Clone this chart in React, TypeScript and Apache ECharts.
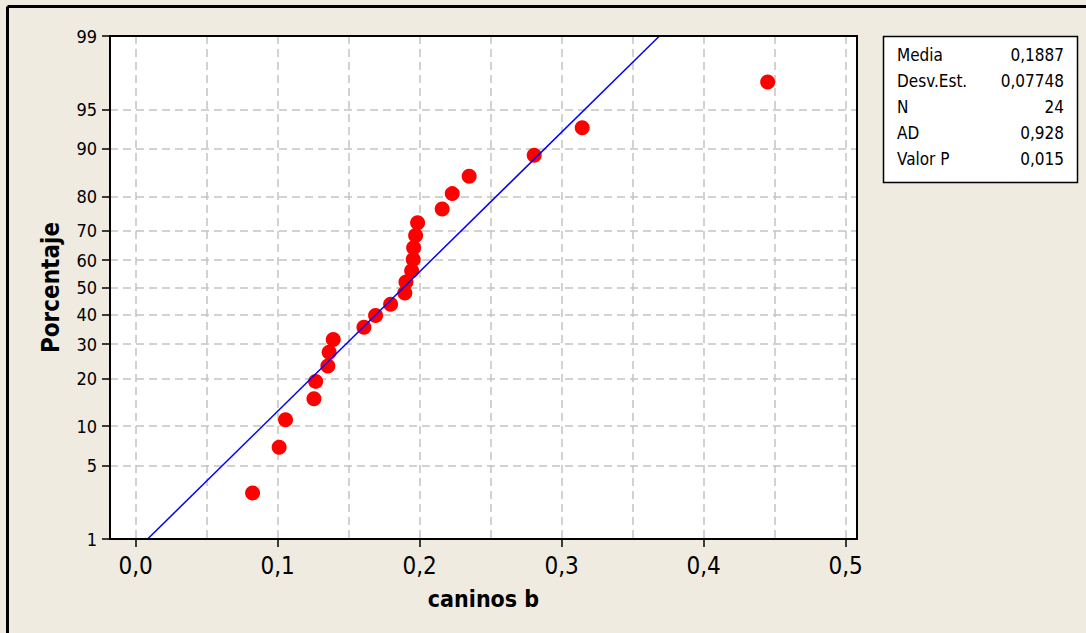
import React, { useEffect, useRef } from "react";
import * as echarts from "echarts";

// ---- data ----
const xValues = [
  0.0824, 0.1011, 0.1056, 0.1256, 0.1268, 0.1354, 0.1363, 0.1392, 0.1608, 0.169,
  0.1796, 0.1896, 0.1904, 0.1944, 0.1955, 0.1958, 0.1972, 0.1986, 0.2159, 0.223,
  0.2349, 0.2807, 0.3145, 0.4451,
];
const pctValues = [
  2.87, 6.97, 11.07, 15.16, 19.26, 23.36, 27.46, 31.56, 35.66, 39.75, 43.85, 47.95,
  52.05, 56.15, 60.25, 64.34, 68.44, 72.54, 76.64, 80.74, 84.84, 88.93, 93.03, 97.13,
];
const fitLine = [
  [0.0085, 1],
  [0.3689, 99],
];
const yTickPcts = [1, 5, 10, 20, 30, 40, 50, 60, 70, 80, 90, 95, 99];
const xTickValues = [0, 0.1, 0.2, 0.3, 0.4, 0.5];
const xGridValues = [0, 0.05, 0.1, 0.15, 0.2, 0.25, 0.3, 0.35, 0.4, 0.45, 0.5];
const statLabels = ["Media", "Desv.Est.", "N", "AD", "Valor P"];
const statValues = ["0,1887", "0,07748", "24", "0,928", "0,015"];

// inverse normal CDF (probability scale transform)
function probit(p: number): number {
  const a = [-39.6968302866538, 220.946098424521, -275.928510446969, 138.357751867269, -30.6647980661472, 2.50662827745924];
  const b = [-54.4764784291166, 161.585836858041, -155.698979859887, 66.8013118877197, -13.2806815528857];
  const c = [-0.00778489400243029, -0.322396458041136, -2.40075827716184, -2.54973253934373, 4.37466414146497, 2.93816398269878];
  const d = [0.00778469570904146, 0.32246712907004, 2.445134137143, 3.75440866190742];
  const pl = 0.02425;
  if (p < pl) {
    const q = Math.sqrt(-2 * Math.log(p));
    return (((((c[0] * q + c[1]) * q + c[2]) * q + c[3]) * q + c[4]) * q + c[5]) /
      ((((d[0] * q + d[1]) * q + d[2]) * q + d[3]) * q + 1);
  }
  if (p <= 1 - pl) {
    const q = p - 0.5;
    const r = q * q;
    return ((((((a[0] * r + a[1]) * r + a[2]) * r + a[3]) * r + a[4]) * r + a[5]) * q) /
      (((((b[0] * r + b[1]) * r + b[2]) * r + b[3]) * r + b[4]) * r + 1);
  }
  const q = Math.sqrt(-2 * Math.log(1 - p));
  return -(((((c[0] * q + c[1]) * q + c[2]) * q + c[3]) * q + c[4]) * q + c[5]) /
    ((((d[0] * q + d[1]) * q + d[2]) * q + d[3]) * q + 1);
}
const z = (pct: number) => probit(pct / 100);

const FONT = "'DejaVu Sans Condensed', 'DejaVu Sans', sans-serif";

export default function App() {
  const ref = useRef<HTMLDivElement>(null);
  useEffect(() => {
    if (!ref.current) return;
    const chart = echarts.init(ref.current, null, { renderer: "svg" });
    const yTickZ = yTickPcts.map(z);
    const yMin = z(1);
    const yMax = z(99);
    const labelFor = (v: number) => {
      for (let i = 0; i < yTickZ.length; i++) {
        if (Math.abs(yTickZ[i] - v) < 1e-6) return String(yTickPcts[i]);
      }
      return "";
    };
    const gridColor = "#c4c4c4";
    chart.setOption({
      animation: false,
      backgroundColor: "#EFEBE1",
      grid: {
        left: 110,
        top: 36,
        right: 229,
        bottom: 94,
        show: true,
        backgroundColor: "#ffffff",
        borderColor: "#000",
        borderWidth: 1.5,
        containLabel: false,
        outerBoundsMode: "none",
      },
      xAxis: [
        {
          type: "value",
          min: -0.018,
          max: 0.508,
          position: "bottom",
          name: "caninos b",
          nameLocation: "middle",
          nameGap: 48,
          nameTextStyle: { fontFamily: FONT, fontSize: 23, fontWeight: "bold", color: "#000" },
          axisLine: { show: true, onZero: false, lineStyle: { color: "#000", width: 2 } },
          axisTick: { show: true, length: 8, customValues: xTickValues, lineStyle: { color: "#000", width: 1.5 } },
          axisLabel: {
            customValues: xTickValues,
            margin: 15,
            fontFamily: FONT,
            fontSize: 24,
            color: "#000",
            formatter: (v: number) => v.toFixed(1).replace(".", ","),
          },
          splitLine: { show: false },
        },
        {
          type: "value",
          min: -0.018,
          max: 0.508,
          position: "top",
          axisLine: { show: false },
          axisTick: { show: false, customValues: xGridValues },
          axisLabel: { show: false, customValues: xGridValues },
          splitLine: { show: true, lineStyle: { color: gridColor, width: 1.5, type: [8, 5] } },
        },
      ],
      yAxis: {
        type: "value",
        min: yMin,
        max: yMax,
        name: "Porcentaje",
        nameLocation: "middle",
        nameGap: 47,
        nameTextStyle: { fontFamily: FONT, fontSize: 24, fontWeight: "bold", color: "#000" },
        axisLine: { show: true, onZero: false, lineStyle: { color: "#000", width: 2 } },
        axisTick: { show: true, length: 8, customValues: yTickZ, lineStyle: { color: "#000", width: 1.5 } },
        axisLabel: {
          customValues: yTickZ,
          margin: 13,
          fontFamily: FONT,
          fontSize: 18,
          color: "#000",
          formatter: (v: number) => labelFor(v),
        },
        splitLine: { show: true, lineStyle: { color: gridColor, width: 1.5, type: [8, 5] } },
      },
      series: [
        {
          type: "line",
          xAxisIndex: 0,
          data: fitLine.map(([x, p]) => [x, z(p)]),
          symbol: "none",
          lineStyle: { color: "#0000ff", width: 1.5 },
          silent: true,
        },
        {
          type: "scatter",
          xAxisIndex: 0,
          data: xValues.map((x, i) => [x, z(pctValues[i])]),
          symbol: "circle",
          symbolSize: 15,
          itemStyle: { color: "#ff0000", opacity: 1 },
        },
      ],
      graphic: [
        { type: "line", shape: { x1: 7.5, y1: 6.5, x2: 1086, y2: 6.5 }, style: { stroke: "#000", lineWidth: 3 } },
        { type: "line", shape: { x1: 7.5, y1: 6.5, x2: 7.5, y2: 633 }, style: { stroke: "#000", lineWidth: 3 } },
        {
          type: "rect",
          z: 100,
          silent: true,
          shape: { x: 110, y: 36, width: 747, height: 503 },
          style: { fill: "none", stroke: "#000", lineWidth: 2 },
        },
        {
          type: "rect",
          shape: { x: 883.5, y: 36.5, width: 194, height: 146 },
          style: { fill: "#ffffff", stroke: "#000", lineWidth: 1.5 },
        },
        ...statLabels.map((t, i) => ({
          type: "text",
          x: 897,
          y: 55 + i * 26,
          style: { text: t, fontFamily: FONT, fontSize: 17, fill: "#000", align: "left", verticalAlign: "middle" },
        })),
        ...statValues.map((t, i) => ({
          type: "text",
          x: 1064,
          y: 55 + i * 26,
          style: { text: t, fontFamily: FONT, fontSize: 17, fill: "#000", align: "right", verticalAlign: "middle" },
        })),
      ],
    });
    return () => chart.dispose();
  }, []);
  return (
    <div
      ref={ref}
      style={{ position: "fixed", left: 0, top: 0, width: 1086, height: 633 }}
    />
  );
}
